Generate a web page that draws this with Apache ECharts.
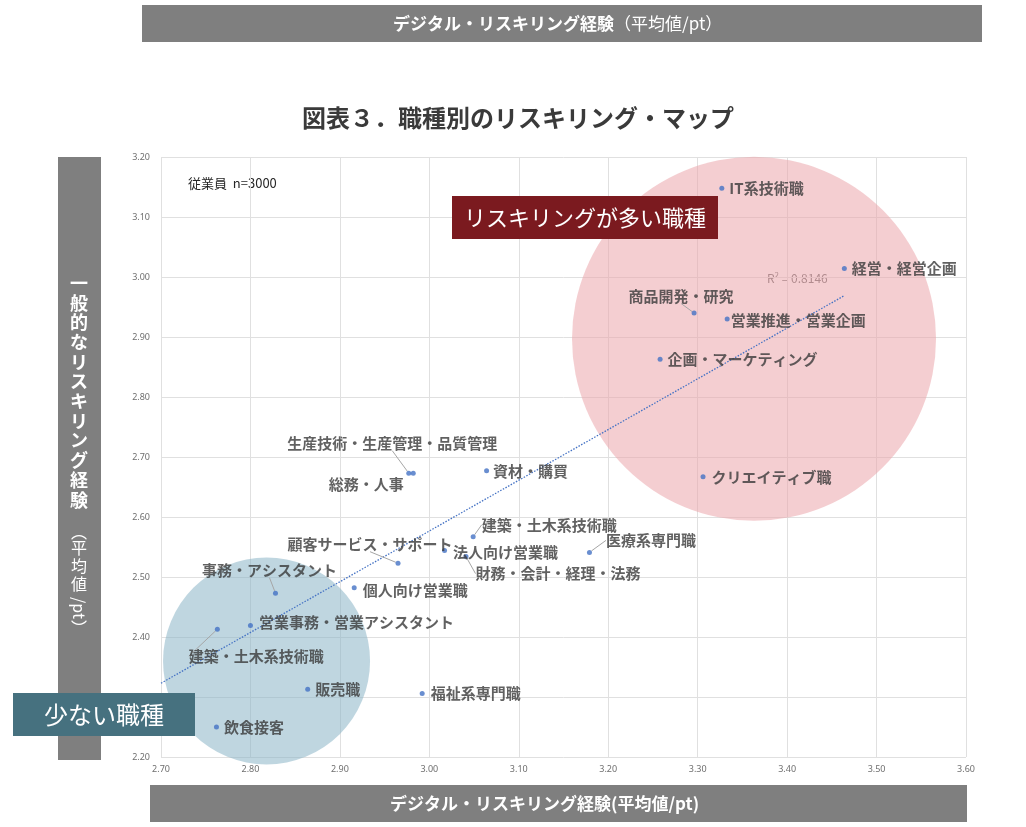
<!DOCTYPE html>
<html>
<head>
<meta charset="utf-8">
<script src="https://cdn.jsdelivr.net/npm/echarts@6/dist/echarts.min.js"></script>
<style>
html,body{margin:0;padding:0;background:#fff;}
#chart{width:1026px;height:827px;}
</style>
</head>
<body>
<div id="chart"></div>
<script>
// ---- data ----
const jobNames = ['IT系技術職','経営・経営企画','商品開発・研究','営業推進・営業企画','企画・マーケティング','クリエイティブ職','医療系専門職','資材・購買','生産技術・生産管理・品質管理','総務・人事','建築・土木系技術職','法人向け営業職','財務・会計・経理・法務','顧客サービス・サポート','個人向け営業職','事務・アシスタント','営業事務・営業アシスタント','建築・土木系技術職','販売職','飲食接客','福祉系専門職'];
const digitalVals = [3.327,3.464,3.296,3.333,3.258,3.306,3.179,3.064,2.977,2.982,3.049,3.017,3.041,2.965,2.916,2.828,2.800,2.763,2.864,2.762,2.992];
const generalVals = [3.148,3.014,2.940,2.930,2.863,2.667,2.541,2.677,2.673,2.673,2.567,2.544,2.534,2.523,2.482,2.473,2.419,2.413,2.313,2.250,2.306];
const trendX = [2.70, 3.464];
const trendY = [2.323, 2.969];
const manyCircleCenter = [3.363, 2.897];
const fewCircleCenter = [2.818, 2.360];
const xTicks = [2.70,2.80,2.90,3.00,3.10,3.20,3.30,3.40,3.50,3.60];
const yTicks = [2.20,2.30,2.40,2.50,2.60,2.70,2.80,2.90,3.00,3.10,3.20];
const rSquared = '0.8146';
const sampleNote = '従業員  n=3000';

// ---- label layout (not data) ----
const labelOffsets = [[0,0],[0,0],[-73,-17],[-4,1],[0,0],[1,0],[9,-12],[-1,0],[-129,-30],[-92,11],[1,-12],[1,2],[2,17],[-118,-19],[1,2],[-81,-23],[1,-3],[-36,27],[0,0],[0,0],[1,0]];
const leaderIdx = [2,6,8,10,12,13,15,17];

const FONT = '"Noto Sans CJK JP","Noto Sans",sans-serif';
const chart = echarts.init(document.getElementById('chart'), null, {renderer:'canvas'});

const pointData = jobNames.map((n,i)=>{
  const item = {name:n, value:[digitalVals[i], generalVals[i]]};
  if (leaderIdx.includes(i)) item.labelLine = {show:true, lineStyle:{color:'#a6a6a6', width:1}};
  return item;
});

const graphics = [];
// top bar
graphics.push({type:'rect', shape:{x:142,y:5,width:840,height:37}, style:{fill:'#7f7f7f'}, silent:true});
graphics.push({type:'text', x:393, y:24, style:{text:'{b|デジタル・リスキリング経験}{n|（平均値/pt）}', textVerticalAlign:'middle', rich:{b:{fontSize:17,fontWeight:'bold',fill:'#fff',fontFamily:FONT}, n:{fontSize:17,fill:'#fff',fontFamily:FONT}}}});
// bottom bar
graphics.push({type:'rect', shape:{x:150,y:785,width:817,height:37}, style:{fill:'#7f7f7f'}, silent:true});
graphics.push({type:'text', x:390, y:804, style:{text:'デジタル・リスキリング経験(平均値/pt)', font:'bold 17px '+FONT, fill:'#fff', textVerticalAlign:'middle'}});
// left bar
graphics.push({type:'rect', shape:{x:58,y:157,width:43,height:603}, style:{fill:'#7f7f7f'}, silent:true});
const vBold = '一般的なリスキリング経験';
for (let i=0;i<vBold.length;i++){
  graphics.push({type:'text', x:79, y:283+i*19.7, style:{text:vBold[i], font:'bold 18px '+FONT, fill:'#fff', textAlign:'center', textVerticalAlign:'middle'}});
}
const vNorm = [['︵',532],['平',548],['均',566],['値',584],['︶',628]];
vNorm.forEach(([c,y])=>graphics.push({type:'text', x:79, y:y, style:{text:c, font:'16px '+FONT, fill:'#fff', textAlign:'center', textVerticalAlign:'middle'}}));
graphics.push({type:'text', x:79, y:608, rotation:-Math.PI/2, style:{text:'/pt', font:'16px '+FONT, fill:'#fff', textAlign:'center', textVerticalAlign:'middle'}});
// title
graphics.push({type:'text', x:518, y:118, style:{text:'図表３．職種別のリスキリング・マップ', font:'bold 24px '+FONT, fill:'#3a3a3a', textAlign:'center', textVerticalAlign:'middle'}});
// sample note
graphics.push({type:'text', x:188, y:183, style:{text:sampleNote, font:'13px '+FONT, fill:'#262626', textVerticalAlign:'middle'}});
// R2
graphics.push({type:'text', x:767, y:278, style:{text:'{a|R}{s|2}{a| = '+rSquared+'}', textVerticalAlign:'middle', rich:{a:{fontSize:12,fill:'#6a6a6a',fontFamily:FONT}, s:{fontSize:8,fill:'#6a6a6a',fontFamily:FONT,verticalAlign:'top',padding:[0,0,6,0]}}}});
// boxes
graphics.push({type:'rect', shape:{x:452,y:196,width:266,height:43}, style:{fill:'#7b1a1f'}, z:100});
graphics.push({type:'text', x:585, y:218, z:101, style:{text:'リスキリングが多い職種', font:'22px '+FONT, fill:'#fff', textAlign:'center', textVerticalAlign:'middle'}});
graphics.push({type:'rect', shape:{x:13,y:693,width:182,height:43}, style:{fill:'#46717f'}, z:100});
graphics.push({type:'text', x:104, y:715, z:101, style:{text:'少ない職種', font:'24px '+FONT, fill:'#fff', textAlign:'center', textVerticalAlign:'middle'}});

const option = {
  animation:false,
  backgroundColor:'#fff',
  grid:{left:161, right:60, top:157, bottom:70, containLabel:false},
  xAxis:{type:'value', min:xTicks[0], max:xTicks[xTicks.length-1], interval:0.1,
    axisLine:{show:false}, axisTick:{show:false},
    axisLabel:{formatter:v=>v.toFixed(2), fontSize:9, color:'#6f6f6f', margin:8, fontFamily:'"Noto Sans",sans-serif'},
    splitLine:{show:true, lineStyle:{color:'#e0e0e0', width:1}}},
  yAxis:{type:'value', min:yTicks[0], max:yTicks[yTicks.length-1], interval:0.1,
    axisLine:{show:false}, axisTick:{show:false},
    axisLabel:{formatter:v=>v.toFixed(2), fontSize:9, color:'#6f6f6f', margin:11, fontFamily:'"Noto Sans",sans-serif'},
    splitLine:{show:true, lineStyle:{color:'#e0e0e0', width:1}}},
  series:[
    {type:'scatter', name:'many', data:[manyCircleCenter], symbolSize:364, z:1, silent:true,
      itemStyle:{color:'#eba5ab', opacity:0.55}},
    {type:'scatter', name:'few', data:[fewCircleCenter], symbolSize:207, z:1, silent:true,
      itemStyle:{color:'#8bb4c7', opacity:0.55}},
    {type:'line', name:'trend', data:trendX.map((x,i)=>[x,trendY[i]]), symbol:'none', z:2, silent:true,
      lineStyle:{color:'#4472c4', width:1.3, type:[1.5,1.5]}},
    {type:'scatter', name:'jobs', data:pointData, symbolSize:5, z:5,
      itemStyle:{color:'#4472c4'},
      label:{show:true, position:'right', distance:5, formatter:'{b}', fontSize:15, fontWeight:'bold', color:'#3a3a3a', fontFamily:FONT},
      labelLayout:function(p){ const o = labelOffsets[p.dataIndex]; return {dx:o[0], dy:o[1]}; },
      labelLine:{show:false, lineStyle:{color:'#a6a6a6', width:1}}
    }
  ],
  graphic:graphics
};
chart.setOption(option);
</script>
</body>
</html>
